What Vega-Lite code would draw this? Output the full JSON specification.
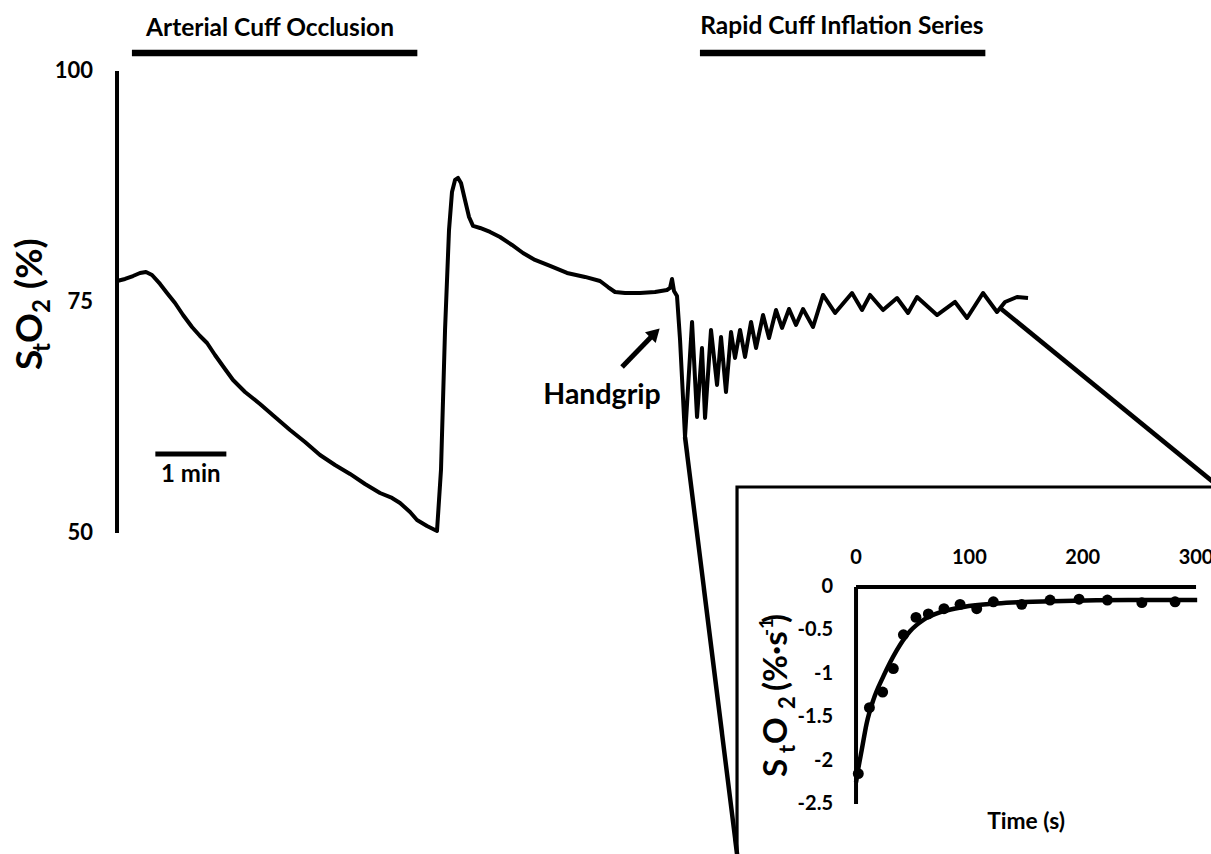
{
  "$schema": "https://vega.github.io/schema/vega-lite/v6.json",
  "width": 1211,
  "height": 854,
  "autosize": {"type": "none"},
  "padding": 0,
  "background": "white",
  "config": {
    "view": {"stroke": null},
    "font": "Lato",
    "text": {"font": "Lato", "fontWeight": "bold", "color": "black"}
  },
  "datasets": {
    "trace": [
      {"t": 0, "so2": 77.27}, {"t": 0.113, "so2": 77.49}, {"t": 0.225, "so2": 77.81}, {"t": 0.324, "so2": 78.14},
      {"t": 0.408, "so2": 78.25}, {"t": 0.493, "so2": 77.92}, {"t": 0.606, "so2": 76.95}, {"t": 0.704, "so2": 75.97},
      {"t": 0.817, "so2": 74.89}, {"t": 0.93, "so2": 73.59}, {"t": 1.056, "so2": 72.29}, {"t": 1.169, "so2": 71.32},
      {"t": 1.268, "so2": 70.56}, {"t": 1.38, "so2": 69.26}, {"t": 1.521, "so2": 67.75}, {"t": 1.634, "so2": 66.56},
      {"t": 1.803, "so2": 65.26}, {"t": 2.014, "so2": 63.96}, {"t": 2.225, "so2": 62.55}, {"t": 2.437, "so2": 61.15},
      {"t": 2.648, "so2": 59.85}, {"t": 2.859, "so2": 58.44}, {"t": 3.07, "so2": 57.36}, {"t": 3.282, "so2": 56.39},
      {"t": 3.493, "so2": 55.3}, {"t": 3.704, "so2": 54.33}, {"t": 3.873, "so2": 53.79}, {"t": 3.986, "so2": 53.25},
      {"t": 4.127, "so2": 52.27}, {"t": 4.225, "so2": 51.41}, {"t": 4.366, "so2": 50.76}, {"t": 4.507, "so2": 50.22},
      {"t": 4.563, "so2": 56.82}, {"t": 4.62, "so2": 71.97}, {"t": 4.676, "so2": 82.79}, {"t": 4.718, "so2": 86.9},
      {"t": 4.761, "so2": 88.2}, {"t": 4.803, "so2": 88.42}, {"t": 4.845, "so2": 87.88}, {"t": 4.901, "so2": 86.04},
      {"t": 4.958, "so2": 84.2}, {"t": 5.014, "so2": 83.23}, {"t": 5.113, "so2": 83.01}, {"t": 5.254, "so2": 82.58},
      {"t": 5.394, "so2": 82.03}, {"t": 5.563, "so2": 81.17}, {"t": 5.718, "so2": 80.3}, {"t": 5.887, "so2": 79.55},
      {"t": 6.099, "so2": 78.9}, {"t": 6.338, "so2": 78.14}, {"t": 6.592, "so2": 77.71}, {"t": 6.803, "so2": 77.27},
      {"t": 6.915, "so2": 76.62}, {"t": 7.014, "so2": 76.08}, {"t": 7.155, "so2": 75.97}, {"t": 7.366, "so2": 75.97},
      {"t": 7.577, "so2": 76.08}, {"t": 7.746, "so2": 76.3}, {"t": 7.789, "so2": 76.52}, {"t": 7.817, "so2": 77.49},
      {"t": 7.845, "so2": 76.19}, {"t": 7.887, "so2": 75.65}, {"t": 7.93, "so2": 70.89}, {"t": 8.0, "so2": 60.39},
      {"t": 8.099, "so2": 72.84}, {"t": 8.169, "so2": 62.55}, {"t": 8.239, "so2": 70.02}, {"t": 8.282, "so2": 62.45},
      {"t": 8.366, "so2": 71.97}, {"t": 8.451, "so2": 66.02}, {"t": 8.507, "so2": 71.21}, {"t": 8.577, "so2": 65.26},
      {"t": 8.648, "so2": 71.75}, {"t": 8.704, "so2": 68.94}, {"t": 8.775, "so2": 71.97}, {"t": 8.845, "so2": 69.05},
      {"t": 8.93, "so2": 72.84}, {"t": 9.0, "so2": 70.02}, {"t": 9.099, "so2": 73.59}, {"t": 9.183, "so2": 71.1},
      {"t": 9.282, "so2": 74.13}, {"t": 9.366, "so2": 72.19}, {"t": 9.465, "so2": 74.24}, {"t": 9.563, "so2": 72.51},
      {"t": 9.662, "so2": 74.24}, {"t": 9.803, "so2": 72.29}, {"t": 9.944, "so2": 75.76}, {"t": 10.113, "so2": 73.81},
      {"t": 10.352, "so2": 75.97}, {"t": 10.493, "so2": 74.13}, {"t": 10.606, "so2": 75.76}, {"t": 10.789, "so2": 74.13},
      {"t": 10.986, "so2": 75.43}, {"t": 11.141, "so2": 73.81}, {"t": 11.268, "so2": 75.54}, {"t": 11.549, "so2": 73.59},
      {"t": 11.803, "so2": 75.0}, {"t": 11.972, "so2": 73.27}, {"t": 12.197, "so2": 75.97}, {"t": 12.394, "so2": 73.92},
      {"t": 12.507, "so2": 75.0}, {"t": 12.676, "so2": 75.54}, {"t": 12.831, "so2": 75.43}
    ],
    "connectors": [
      {"link": "to inset corner (lower)", "fromT": 8.0, "fromS": 60.39, "toT": 8.761, "toS": 13.53},
      {"link": "to inset corner (upper)", "fromT": 12.437, "fromS": 74.35, "toT": 15.817, "toS": 53.14}
    ],
    "events": [
      {"event": "Arterial Cuff Occlusion", "start": 0.21, "end": 4.23, "mid": 2.155, "barLevel": 101.95, "labelLevel": 104.55},
      {"event": "Rapid Cuff Inflation Series", "start": 8.21, "end": 12.23, "mid": 10.21, "barLevel": 101.95, "labelLevel": 104.76}
    ],
    "scaleBar": [
      {"label": "1 min", "start": 0.54, "end": 1.54, "mid": 1.04, "barLevel": 58.55, "labelLevel": 56.28}
    ],
    "handgrip": [
      {"label": "Handgrip", "labelT": 6.831, "labelS": 64.94, "tailT": 7.113, "tailS": 67.97, "headT": 7.577, "headS": 71.64}
    ],
    "mainAxis": [{"t": 0, "lo": 50, "hi": 100}],
    "mainTicks": [{"value": 100, "label": "100"}, {"value": 75, "label": "75"}, {"value": 50, "label": "50"}],
    "mainTitle": [{"t": -1.056, "so2": 67.64}],
    "ratePoints": [
      {"time": 2.0, "rate": -2.15}, {"time": 11.8, "rate": -1.39}, {"time": 23.5, "rate": -1.21}, {"time": 32.9, "rate": -0.94},
      {"time": 41.8, "rate": -0.55}, {"time": 52.9, "rate": -0.35}, {"time": 63.8, "rate": -0.31}, {"time": 77.6, "rate": -0.25},
      {"time": 91.8, "rate": -0.2}, {"time": 106.5, "rate": -0.25}, {"time": 121.2, "rate": -0.17}, {"time": 146.2, "rate": -0.2},
      {"time": 171.2, "rate": -0.15}, {"time": 196.8, "rate": -0.14}, {"time": 221.8, "rate": -0.15}, {"time": 252.2, "rate": -0.18},
      {"time": 281.5, "rate": -0.17}
    ],
    "rateFit": [
      {"time": 0, "rate": -2.25}, {"time": 2, "rate": -2.09}, {"time": 5, "rate": -1.88}, {"time": 9.4, "rate": -1.57},
      {"time": 15.3, "rate": -1.3}, {"time": 24.1, "rate": -1.03}, {"time": 35.9, "rate": -0.73}, {"time": 47.6, "rate": -0.51},
      {"time": 59.4, "rate": -0.38}, {"time": 77, "rate": -0.28}, {"time": 94.7, "rate": -0.23}, {"time": 124, "rate": -0.19},
      {"time": 183, "rate": -0.16}, {"time": 240, "rate": -0.15}, {"time": 301, "rate": -0.15}
    ],
    "insetAxes": [
      {"axis": "x", "x1": 0, "x2": 300, "y1": 0, "y2": 0},
      {"axis": "y", "x1": 0, "x2": 0, "y1": 0, "y2": -2.5}
    ],
    "insetXTicks": [{"value": 0, "label": "0"}, {"value": 100, "label": "100"}, {"value": 200, "label": "200"}, {"value": 300, "label": "300"}],
    "insetYTicks": [{"value": 0, "label": "0"}, {"value": -0.5, "label": "-0.5"}, {"value": -1, "label": "-1"}, {"value": -1.5, "label": "-1.5"}, {"value": -2, "label": "-2"}, {"value": -2.5, "label": "-2.5"}],
    "insetFrame": [{"left": -105, "right": 340, "top": 1.152, "bottom": -3.3}],
    "insetTitle": [{"time": -60.9, "rate": -2.189}],
    "insetXLabel": [{"label": "Time (s)", "time": 150, "rate": -2.707}]
  },
  "layer": [
    {
      "layer": [
        {
          "data": {"name": "mainAxis"},
          "mark": {"type": "rule", "color": "black", "strokeWidth": 4},
          "encoding": {
            "x": {"field": "t", "type": "quantitative", "scale": {"domain": [-1.648, 15.408], "nice": false, "zero": false}, "axis": null},
            "y": {"field": "lo", "type": "quantitative", "scale": {"domain": [15.26, 107.68], "nice": false, "zero": false}, "axis": null},
            "y2": {"field": "hi"}
          }
        },
        {
          "data": {"name": "mainTicks"},
          "mark": {"type": "text", "fontSize": 22, "align": "right", "baseline": "middle", "dx": -24},
          "encoding": {
            "x": {"datum": 0, "type": "quantitative", "axis": null},
            "y": {"field": "value", "type": "quantitative", "axis": null},
            "text": {"field": "label"}
          }
        },
        {
          "data": {"name": "trace"},
          "mark": {"type": "line", "color": "black", "strokeWidth": 4, "strokeJoin": "round"},
          "encoding": {
            "x": {"field": "t", "type": "quantitative", "axis": null},
            "y": {"field": "so2", "type": "quantitative", "axis": null}
          }
        },
        {
          "data": {"name": "connectors"},
          "mark": {"type": "rule", "color": "black", "strokeWidth": 4.5},
          "encoding": {
            "x": {"field": "fromT", "type": "quantitative", "axis": null},
            "y": {"field": "fromS", "type": "quantitative", "axis": null},
            "x2": {"field": "toT"},
            "y2": {"field": "toS"}
          }
        },
        {
          "data": {"name": "events"},
          "mark": {"type": "rule", "color": "black", "strokeWidth": 6.5},
          "encoding": {
            "x": {"field": "start", "type": "quantitative", "axis": null},
            "x2": {"field": "end"},
            "y": {"field": "barLevel", "type": "quantitative", "axis": null}
          }
        },
        {
          "data": {"name": "events"},
          "mark": {"type": "text", "fontSize": 24.5, "align": "center", "baseline": "middle"},
          "encoding": {
            "x": {"field": "mid", "type": "quantitative", "axis": null},
            "y": {"field": "labelLevel", "type": "quantitative", "axis": null},
            "text": {"field": "event"}
          }
        },
        {
          "data": {"name": "scaleBar"},
          "mark": {"type": "rule", "color": "black", "strokeWidth": 5},
          "encoding": {
            "x": {"field": "start", "type": "quantitative", "axis": null},
            "x2": {"field": "end"},
            "y": {"field": "barLevel", "type": "quantitative", "axis": null}
          }
        },
        {
          "data": {"name": "scaleBar"},
          "mark": {"type": "text", "fontSize": 24, "align": "center", "baseline": "middle"},
          "encoding": {
            "x": {"field": "mid", "type": "quantitative", "axis": null},
            "y": {"field": "labelLevel", "type": "quantitative", "axis": null},
            "text": {"field": "label"}
          }
        },
        {
          "data": {"name": "handgrip"},
          "mark": {"type": "rule", "color": "black", "strokeWidth": 5},
          "encoding": {
            "x": {"field": "tailT", "type": "quantitative", "axis": null},
            "y": {"field": "tailS", "type": "quantitative", "axis": null},
            "x2": {"field": "headT"},
            "y2": {"field": "headS"}
          }
        },
        {
          "data": {"name": "handgrip"},
          "mark": {"type": "point", "shape": "triangle-up", "filled": true, "color": "black", "opacity": 1, "size": 230, "angle": 45},
          "encoding": {
            "x": {"field": "headT", "type": "quantitative", "axis": null},
            "y": {"field": "headS", "type": "quantitative", "axis": null}
          }
        },
        {
          "data": {"name": "handgrip"},
          "mark": {"type": "text", "fontSize": 28.5, "align": "center", "baseline": "middle"},
          "encoding": {
            "x": {"field": "labelT", "type": "quantitative", "axis": null},
            "y": {"field": "labelS", "type": "quantitative", "axis": null},
            "text": {"field": "label"}
          }
        },
        {
          "data": {"name": "mainTitle"},
          "mark": {"type": "text", "text": "S", "angle": 270, "align": "left", "baseline": "alphabetic", "fontSize": 37, "dx": 0, "dy": 0},
          "encoding": {"x": {"field": "t", "type": "quantitative", "axis": null}, "y": {"field": "so2", "type": "quantitative", "axis": null}}
        },
        {
          "data": {"name": "mainTitle"},
          "mark": {"type": "text", "text": "t", "angle": 270, "align": "left", "baseline": "alphabetic", "fontSize": 24, "dx": 18, "dy": 8},
          "encoding": {"x": {"field": "t", "type": "quantitative", "axis": null}, "y": {"field": "so2", "type": "quantitative", "axis": null}}
        },
        {
          "data": {"name": "mainTitle"},
          "mark": {"type": "text", "text": "O", "angle": 270, "align": "left", "baseline": "alphabetic", "fontSize": 37, "dx": 27, "dy": 0},
          "encoding": {"x": {"field": "t", "type": "quantitative", "axis": null}, "y": {"field": "so2", "type": "quantitative", "axis": null}}
        },
        {
          "data": {"name": "mainTitle"},
          "mark": {"type": "text", "text": "2", "angle": 270, "align": "left", "baseline": "alphabetic", "fontSize": 24, "dx": 57, "dy": 8},
          "encoding": {"x": {"field": "t", "type": "quantitative", "axis": null}, "y": {"field": "so2", "type": "quantitative", "axis": null}}
        },
        {
          "data": {"name": "mainTitle"},
          "mark": {"type": "text", "text": "(%)", "angle": 270, "align": "left", "baseline": "alphabetic", "fontSize": 37, "dx": 81, "dy": 0},
          "encoding": {"x": {"field": "t", "type": "quantitative", "axis": null}, "y": {"field": "so2", "type": "quantitative", "axis": null}}
        }
      ]
    },
    {
      "layer": [
        {
          "data": {"name": "insetAxes"},
          "mark": {"type": "rule", "color": "black", "strokeWidth": 4},
          "encoding": {
            "x": {"field": "x1", "type": "quantitative", "scale": {"domain": [-755.3, 313.2], "nice": false, "zero": false}, "axis": null},
            "x2": {"field": "x2"},
            "y": {"field": "y1", "type": "quantitative", "scale": {"domain": [-3.076, 6.763], "nice": false, "zero": false}, "axis": null},
            "y2": {"field": "y2"}
          }
        },
        {
          "data": {"name": "insetXTicks"},
          "mark": {"type": "text", "fontSize": 20, "align": "center", "baseline": "middle", "dy": -29},
          "encoding": {
            "x": {"field": "value", "type": "quantitative", "axis": null},
            "y": {"datum": 0, "type": "quantitative", "axis": null},
            "text": {"field": "label"}
          }
        },
        {
          "data": {"name": "insetYTicks"},
          "mark": {"type": "text", "fontSize": 20, "align": "right", "baseline": "middle", "dx": -23},
          "encoding": {
            "x": {"datum": 0, "type": "quantitative", "axis": null},
            "y": {"field": "value", "type": "quantitative", "axis": null},
            "text": {"field": "label"}
          }
        },
        {
          "data": {"name": "insetFrame"},
          "mark": {"type": "rect", "fillOpacity": 0, "stroke": "black", "strokeWidth": 3.2},
          "encoding": {
            "x": {"field": "left", "type": "quantitative", "axis": null},
            "x2": {"field": "right"},
            "y": {"field": "top", "type": "quantitative", "axis": null},
            "y2": {"field": "bottom"}
          }
        },
        {
          "data": {"name": "rateFit"},
          "mark": {"type": "line", "color": "black", "strokeWidth": 4.5, "interpolate": "monotone"},
          "encoding": {
            "x": {"field": "time", "type": "quantitative", "axis": null},
            "y": {"field": "rate", "type": "quantitative", "axis": null}
          }
        },
        {
          "data": {"name": "ratePoints"},
          "mark": {"type": "circle", "color": "black", "opacity": 1, "size": 120},
          "encoding": {
            "x": {"field": "time", "type": "quantitative", "axis": null},
            "y": {"field": "rate", "type": "quantitative", "axis": null}
          }
        },
        {
          "data": {"name": "insetXLabel"},
          "mark": {"type": "text", "fontSize": 22.8, "align": "center", "baseline": "middle"},
          "encoding": {
            "x": {"field": "time", "type": "quantitative", "axis": null},
            "y": {"field": "rate", "type": "quantitative", "axis": null},
            "text": {"field": "label"}
          }
        },
        {
          "data": {"name": "insetTitle"},
          "mark": {"type": "text", "text": "S", "angle": 270, "align": "left", "baseline": "alphabetic", "fontSize": 33, "dx": 0, "dy": 0},
          "encoding": {"x": {"field": "time", "type": "quantitative", "axis": null}, "y": {"field": "rate", "type": "quantitative", "axis": null}}
        },
        {
          "data": {"name": "insetTitle"},
          "mark": {"type": "text", "text": "t", "angle": 270, "align": "left", "baseline": "alphabetic", "fontSize": 22, "dx": 24, "dy": 8},
          "encoding": {"x": {"field": "time", "type": "quantitative", "axis": null}, "y": {"field": "rate", "type": "quantitative", "axis": null}}
        },
        {
          "data": {"name": "insetTitle"},
          "mark": {"type": "text", "text": "O", "angle": 270, "align": "left", "baseline": "alphabetic", "fontSize": 33, "dx": 33, "dy": 0},
          "encoding": {"x": {"field": "time", "type": "quantitative", "axis": null}, "y": {"field": "rate", "type": "quantitative", "axis": null}}
        },
        {
          "data": {"name": "insetTitle"},
          "mark": {"type": "text", "text": "2", "angle": 270, "align": "left", "baseline": "alphabetic", "fontSize": 22, "dx": 68, "dy": 8},
          "encoding": {"x": {"field": "time", "type": "quantitative", "axis": null}, "y": {"field": "rate", "type": "quantitative", "axis": null}}
        },
        {
          "data": {"name": "insetTitle"},
          "mark": {"type": "text", "text": "(%·s", "angle": 270, "align": "left", "baseline": "alphabetic", "fontSize": 33, "dx": 86, "dy": 0},
          "encoding": {"x": {"field": "time", "type": "quantitative", "axis": null}, "y": {"field": "rate", "type": "quantitative", "axis": null}}
        },
        {
          "data": {"name": "insetTitle"},
          "mark": {"type": "text", "text": "-1", "angle": 270, "align": "left", "baseline": "alphabetic", "fontSize": 19, "dx": 141, "dy": -14},
          "encoding": {"x": {"field": "time", "type": "quantitative", "axis": null}, "y": {"field": "rate", "type": "quantitative", "axis": null}}
        },
        {
          "data": {"name": "insetTitle"},
          "mark": {"type": "text", "text": ")", "angle": 270, "align": "left", "baseline": "alphabetic", "fontSize": 33, "dx": 154, "dy": 0},
          "encoding": {"x": {"field": "time", "type": "quantitative", "axis": null}, "y": {"field": "rate", "type": "quantitative", "axis": null}}
        }
      ]
    }
  ],
  "resolve": {"scale": {"x": "independent", "y": "independent"}}
}
